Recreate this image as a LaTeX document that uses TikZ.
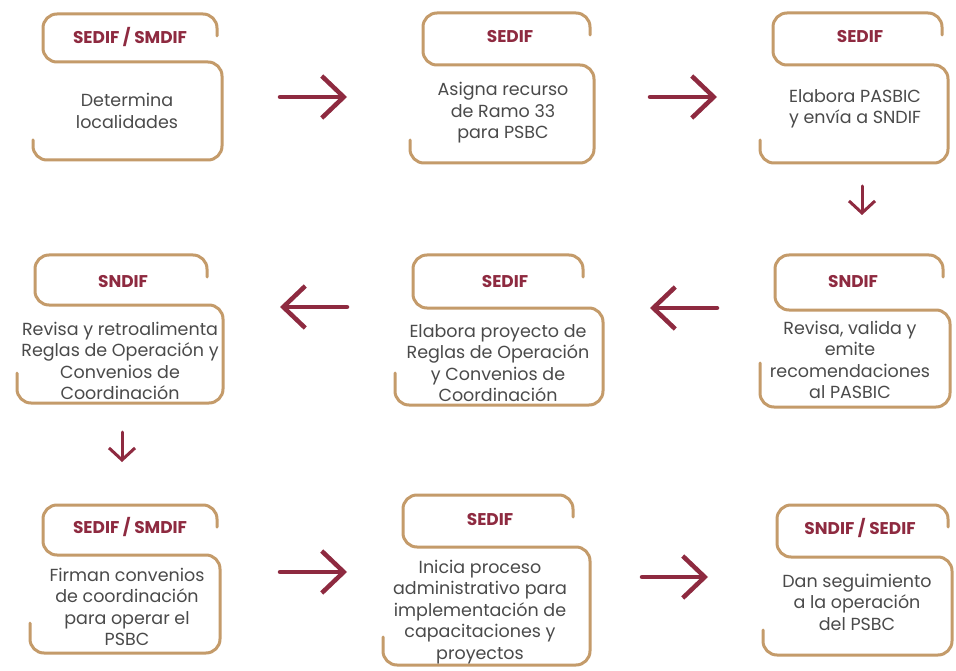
\documentclass[tikz,border=0pt]{standalone}
\usepackage{fontspec}
\setmainfont{Poppins}
\usetikzlibrary{arrows.meta}
\definecolor{gold}{HTML}{C49B6A}
\definecolor{wine}{HTML}{8E2A40}
\definecolor{bodygray}{HTML}{4A4A4A}
\tikzset{
 sline/.style={draw=gold, line width=3pt, rounded corners=14pt, line cap=round},
 hdr/.style={font=\fontsize{17}{20}\selectfont\bfseries, text=wine, inner sep=0pt},
 bodytxt/.style={font=\fontsize{17.5}{21.5}\selectfont, text=bodygray, align=center, inner sep=0pt},
 harrow/.style={draw=wine, line width=4.5pt, line cap=round, -{Straight Barb[length=22pt,width=42pt]}},
 varrow/.style={draw=wine, line width=3pt, line cap=round, -{Straight Barb[length=12pt,width=26pt]}}
}
% #1 L0, #2 L1, #3 R, #4 top, #5 mid, #6 bot, #7 stub top, #8 top-right x
\newcommand\Sshape[8]{\draw[sline] (#8,#4+22) -- (#8,#4) -- (#2,#4) -- (#2,#5) -- (#3,#5) -- (#3,#6) -- (#1,#6) -- (#1,#7);}
\begin{document}
\begin{tikzpicture}[x=1pt,y=-1pt]
\fill[white] (0,0) rectangle (956,671);
\useasboundingbox (0,0) rectangle (956,671);

% shapes
\Sshape{33}{43}{222}{14}{62}{160}{140}{217}
\Sshape{410}{423}{594}{13}{65}{163}{140}{590}
\Sshape{760}{773}{948}{13}{65}{163}{140}{942}
\Sshape{17}{35}{223}{255}{305}{403}{373}{207}
\Sshape{395}{413}{603}{255}{308}{405}{373}{583}
\Sshape{760}{775}{950}{255}{310}{407}{363}{943}
\Sshape{30}{43}{220}{505}{555}{653}{623}{217}
\Sshape{383}{403}{590}{495}{547}{665}{637}{573}
\Sshape{763}{777}{952}{505}{557}{655}{630}{948}

% headers
\node[hdr] (h1) at (130,37) {SEDIF / SMDIF};
\node[hdr] (h2) at (510,37) {SEDIF};
\node[hdr] (h3) at (860,37) {SEDIF};
\node[hdr] (h4) at (123,282) {SNDIF};
\node[hdr] (h5) at (505,282) {SEDIF};
\node[hdr] (h6) at (853,282) {SNDIF};
\node[hdr] (h7) at (130,527) {SEDIF / SMDIF};
\node[hdr] (h8) at (490,520) {SEDIF};
\node[hdr] (h9) at (860,528) {SNDIF / SEDIF};

% bodies
\node[bodytxt] (t1) at (127,111) {Determina\\localidades};
\node[bodytxt] (t2) at (503,113) {Asigna recurso\\de Ramo 33\\para PSBC};
\node[bodytxt] (t3) at (855,109) {Elabora PASBIC\\y envía a SNDIF};
\node[bodytxt] (t4) at (120,361) {Revisa y retroalimenta\\Reglas de Operación y\\Convenios de\\Coordinación};
\node[bodytxt] (t5) at (498,363) {Elabora proyecto de\\Reglas de Operación\\y Convenios de\\Coordinación};
\node[bodytxt] (t6) at (850,360) {Revisa, valida y\\emite\\recomendaciones\\al PASBIC};
\node[bodytxt] (t7) at (127,607) {Firman convenios\\de coordinación\\para operar el\\PSBC};
\node[bodytxt] (t8) at (480,612) {Inicia proceso\\administrativo para\\implementación de\\capacitaciones y\\proyectos};
\node[bodytxt] (t9) at (857,602) {Dan seguimiento\\a la operación\\del PSBC};

% arrow end points
\coordinate (a12s) at (280,97);  \coordinate (a12e) at (347,97);
\coordinate (a23s) at (650,97);  \coordinate (a23e) at (717,97);
\coordinate (a36s) at (862,186); \coordinate (a36e) at (862,215);
\coordinate (a65s) at (717,308); \coordinate (a65e) at (650,308);
\coordinate (a54s) at (347,307); \coordinate (a54e) at (280,307);
\coordinate (a47s) at (122,432); \coordinate (a47e) at (122,462);
\coordinate (a78s) at (280,572); \coordinate (a78e) at (347,572);
\coordinate (a89s) at (642,577); \coordinate (a89e) at (708,577);

\draw[harrow] (a12s) -- (a12e);
\draw[harrow] (a23s) -- (a23e);
\draw[varrow] (a36s) -- (a36e);
\draw[harrow] (a65s) -- (a65e);
\draw[harrow] (a54s) -- (a54e);
\draw[varrow] (a47s) -- (a47e);
\draw[harrow] (a78s) -- (a78e);
\draw[harrow] (a89s) -- (a89e);
\end{tikzpicture}
\end{document}
